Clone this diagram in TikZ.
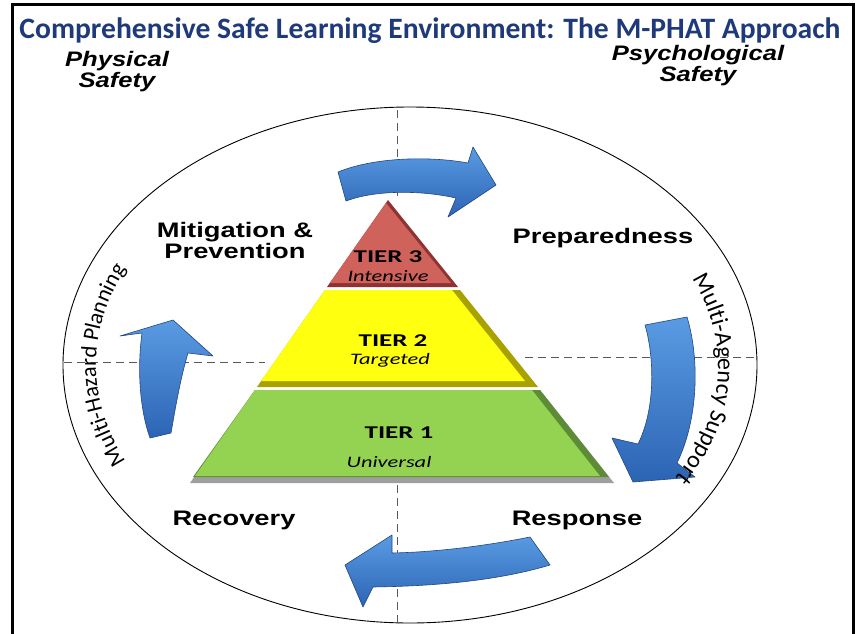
\documentclass[tikz,border=0pt]{standalone}
\usepackage{fontspec}
\setmainfont{Liberation Sans}
\newfontfamily\calfont{Carlito}
\usetikzlibrary{decorations.text}
\definecolor{titleblue}{HTML}{1F3A7A}
\definecolor{redface}{HTML}{D0625C}
\definecolor{redshade}{HTML}{8E3331}
\definecolor{yelface}{HTML}{FFFF10}
\definecolor{yelshade}{HTML}{A8A200}
\definecolor{grnface}{HTML}{94D352}
\definecolor{grnshade}{HTML}{5E8C36}
\definecolor{arrowlight}{HTML}{5A9BE3}
\definecolor{arrowdark}{HTML}{2C64B4}
\definecolor{arrowedge}{HTML}{22477E}
\tikzset{
  frameline/.style={line width=3pt, black},
  ringline/.style={line width=0.9pt, black},
  guide/.style={gray!70!black, line width=0.9pt, dash pattern=on 8pt off 5pt},
  bluearrow/.style={draw=arrowedge, line width=0.6pt, top color=arrowlight, bottom color=arrowdark, line join=round},
  titletext/.style={font=\calfont\bfseries\fontsize{29.6}{30}\selectfont, text=titleblue, inner sep=0pt},
  safety/.style={font=\bfseries\itshape\fontsize{21}{21}\selectfont, align=center, xscale=1.22, inner sep=0pt},
  phase/.style={font=\bfseries\fontsize{21}{21}\selectfont, align=center, xscale=1.3, inner sep=0pt},
  tiername/.style={font=\calfont\bfseries\fontsize{18}{18}\selectfont, xscale=1.5, inner sep=0pt},
  tierkind/.style={font=\calfont\itshape\fontsize{16}{16}\selectfont, xscale=1.4, inner sep=0pt},
}
\begin{document}
\begin{tikzpicture}[x=1pt,y=-1pt]
\useasboundingbox (0,0) rectangle (859,634);
\fill[white] (0,0) rectangle (859,634);
% frame
\draw[frameline] (12,634) -- (12,5) -- (853,5) -- (853,634);
% title
\node[titletext] (title) at (430,31) {Comprehensive Safe Learning Environment: The M-PHAT Approach};
\node[safety] (phys) at (117,72) {Physical\\Safety};
\node[safety] (psych) at (698,66) {Psychological\\Safety};
% ring
\draw[ringline] (410,365) ellipse [x radius=347, y radius=258];
% guides
\draw[guide] (397,110) -- (397,198);
\draw[guide] (397,485) -- (397,622);
\draw[guide] (64,362) -- (265,362);
\draw[guide] (525,357) -- (756,357);
% pyramid: tier 3
\fill[redshade] (388,200) -- (327,287) -- (458,287) -- cycle;
\fill[redface] (386,203) -- (330,283) -- (451,283) -- cycle;
% tier 2
\fill[yelshade] (325,290) -- (257,387) -- (538,387) -- (460,290) -- cycle;
\fill[yelface] (325,290) -- (261,381) -- (525,381) -- (452,290) -- cycle;
% tier 1
\fill[gray!75] (255,390) -- (190,483) -- (614,483) -- (540,390) -- cycle;
\fill[grnshade] (255,390) -- (193,477) -- (609,477) -- (540,390) -- cycle;
\fill[grnface] (255,390) -- (195,476) -- (600,476) -- (532,390) -- cycle;
% tier texts
\node[tiername] (t3) at (388,257) {TIER 3};
\node[tierkind] (t3k) at (388,276) {Intensive};
\node[tiername] (t2) at (393,341) {TIER 2};
\node[tierkind] (t2k) at (390,360) {Targeted};
\node[tiername] (t1) at (399,433) {TIER 1};
\node[tierkind] (t1k) at (389,462) {Universal};
% arrows
\path[bluearrow] (338,172) .. controls (375,157) and (430,156) .. (468,163) -- (473,147) -- (496,185) -- (448,217) -- (456,198) .. controls (420,190) and (375,190) .. (346,201) -- cycle;
\path[bluearrow] (150,438) .. controls (140,410) and (137,370) .. (142,333) -- (120,336) -- (173,320) -- (213,356) -- (188,353) .. controls (180,380) and (175,410) .. (171,433) -- cycle;
\path[bluearrow] (645,325) -- (687,317) .. controls (700,360) and (698,420) .. (677,463) -- (695,477) -- (633,482) -- (612,438) -- (638,444) .. controls (655,410) and (655,360) .. (645,325) -- cycle;
\path[bluearrow] (530,537) .. controls (490,545) and (440,552) .. (392,553) -- (392,535) -- (345,565) -- (363,607) -- (373,587) .. controls (440,586) and (500,580) .. (550,565) -- cycle;
% phase labels
\node[phase] (mit) at (235,240) {Mitigation \&\\Prevention};
\node[phase] (prep) at (603,238) {Preparedness};
\node[phase] (rec) at (234,520) {Recovery};
\node[phase] (resp) at (577,520) {Response};
% curved labels
\path[decorate, decoration={text along path, text align=center,
  text={|\calfont\fontsize{22.5}{22.5}\selectfont|Multi-Hazard Planning}}]
  (410,365) ++(145:314 and 225) arc[start angle=145, end angle=215, x radius=314, y radius=225];
\path[decorate, decoration={text along path, text align=center,
  text={|\calfont\fontsize{24}{24}\selectfont|Multi-Agency Support}}]
  (410,367) ++(-40:308 and 219) arc[start angle=-40, end angle=46, x radius=308, y radius=219];
\end{tikzpicture}
\end{document}
